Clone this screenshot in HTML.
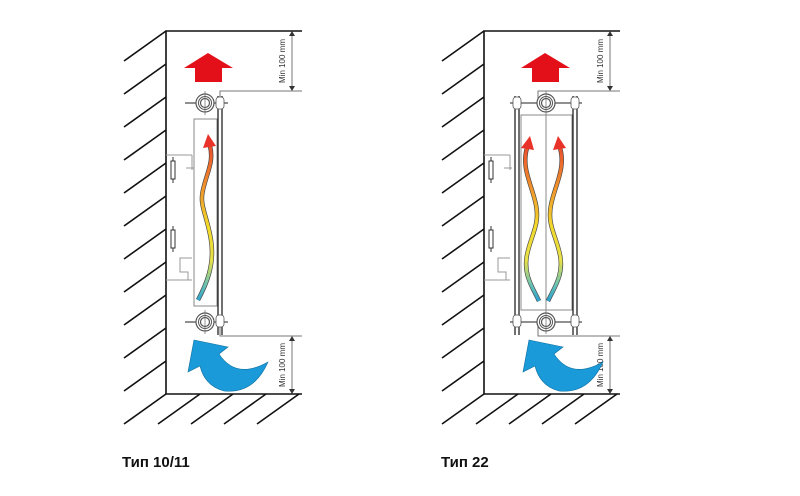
<!DOCTYPE html>
<html><head><meta charset="utf-8"><style>
html,body{margin:0;padding:0;background:#fff;}
svg{display:block}
text{font-family:"Liberation Sans",sans-serif}
</style></head><body>
<svg width="800" height="496" viewBox="0 0 800 496" xmlns="http://www.w3.org/2000/svg">
<defs>
<linearGradient id="g" x1="0" y1="130" x2="0" y2="305" gradientUnits="userSpaceOnUse">
<stop offset="0" stop-color="#e8322a"/><stop offset="0.3" stop-color="#ef8a2c"/><stop offset="0.55" stop-color="#f3d92a"/><stop offset="0.75" stop-color="#e6e04a"/><stop offset="0.88" stop-color="#6cc3b0"/><stop offset="1" stop-color="#1a9ad8"/>
</linearGradient>
<g id="base">
<g stroke="#111" stroke-width="1.6">
<line x1="124" y1="61" x2="166" y2="31"/><line x1="124" y1="94" x2="166" y2="64"/><line x1="124" y1="127" x2="166" y2="97"/><line x1="124" y1="160" x2="166" y2="130"/><line x1="124" y1="193" x2="166" y2="163"/><line x1="124" y1="226" x2="166" y2="196"/><line x1="124" y1="259" x2="166" y2="229"/><line x1="124" y1="292" x2="166" y2="262"/><line x1="124" y1="325" x2="166" y2="295"/><line x1="124" y1="358" x2="166" y2="328"/><line x1="124" y1="391" x2="166" y2="361"/>
<line x1="124" y1="424" x2="166" y2="394"/><line x1="158" y1="424" x2="200" y2="394"/><line x1="191" y1="424" x2="233" y2="394"/><line x1="224" y1="424" x2="266" y2="394"/><line x1="257" y1="424" x2="299" y2="394"/>
</g>
<path d="M302,31 H166 V394 H302" fill="none" stroke="#111" stroke-width="1.6"/>
<g stroke="#777" stroke-width="1" fill="none">
<path d="M220,100 V91 H302"/><path d="M220,320 V336 H302"/>
<line x1="292" y1="33" x2="292" y2="89"/><line x1="292" y1="338" x2="292" y2="392"/>
</g>
<g fill="#333"><path d="M289,36 L292,31 L295,36Z"/><path d="M289,86 L292,91 L295,86Z"/><path d="M289,341 L292,336 L295,341Z"/><path d="M289,389 L292,394 L295,389Z"/></g>
<text transform="translate(285,61) rotate(-90)" font-size="8" fill="#333" text-anchor="middle">Min 100 mm</text>
<text transform="translate(285,365) rotate(-90)" font-size="8" fill="#333" text-anchor="middle">Min 100 mm</text>
<g stroke="#999" stroke-width="1" fill="none">
<path d="M166,155 H192"/><path d="M166,280 H192"/>
<path d="M192,155 V170 M186,168 H194"/><path d="M192,258 H180 V272 H188 V280"/>
</g>
<g stroke="#333" stroke-width="1" fill="#fff">
<line x1="173" y1="157" x2="173" y2="183"/><rect x="171" y="161" width="4" height="18"/>
<line x1="173" y1="226" x2="173" y2="252"/><rect x="171" y="230" width="4" height="18"/>
</g>
</g>
<g id="blue"><path d="M194,340 L228,347 L219,354 Q236,380 268,362 Q254,394 224,391 Q205,386 200,366 L188,372 Z" fill="#1a9ad8" stroke="#0d6fa0" stroke-width="0.6"/></g>
<g id="red"><path d="M208,53 L233,68 L222,68 L222,82 L195,82 L195,68 L184,68 Z" fill="#e3101a"/></g>
<g id="pipe"><circle r="9" fill="#fff" stroke="#555" stroke-width="1.2"/><circle r="6.5" fill="none" stroke="#555" stroke-width="1"/><circle r="4.5" fill="none" stroke="#555" stroke-width="1.2"/><line x1="0" y1="-12" x2="0" y2="12" stroke="#666" stroke-width="0.7"/></g>
</defs>

<use href="#base"/>
<use href="#red"/>
<use href="#blue"/>
<rect x="194" y="119" width="23" height="187" fill="#fff" stroke="#888" stroke-width="1"/>
<line x1="185" y1="103" x2="228" y2="103" stroke="#222" stroke-width="1"/>
<line x1="185" y1="322" x2="228" y2="322" stroke="#222" stroke-width="1"/>
<use href="#pipe" x="205" y="103"/><use href="#pipe" x="205" y="322"/>
<g stroke="#111" stroke-width="1.2" fill="none"><line x1="218" y1="96" x2="218" y2="335"/><line x1="222" y1="96" x2="222" y2="335"/></g>
<g stroke="#555" stroke-width="0.8" fill="#fff"><rect x="216" y="97" width="8" height="12" rx="3"/><rect x="216" y="315" width="8" height="12" rx="3"/></g>
<path d="M198,300 C206,285 215,265 211,240 C207,215 199,205 203,190 C207,172 214,162 210,146" fill="none" stroke="#444" stroke-width="4.5"/>
<path d="M198,300 C206,285 215,265 211,240 C207,215 199,205 203,190 C207,172 214,162 210,146" fill="none" stroke="url(#g)" stroke-width="3.2"/>
<path d="M208,134 L203,148 L216,146 Z" fill="#e8322a"/>
<text x="122" y="467" font-size="15" font-weight="bold" fill="#111">Тип 10/11</text>

<use href="#base" x="318"/>
<use href="#red" x="337"/>
<use href="#blue" x="335"/>
<rect x="521" y="115" width="51" height="195" fill="#fff" stroke="#888" stroke-width="1"/>
<line x1="546" y1="115" x2="546" y2="310" stroke="#888"/>
<line x1="510" y1="103" x2="582" y2="103" stroke="#222" stroke-width="1"/>
<line x1="510" y1="322" x2="582" y2="322" stroke="#222" stroke-width="1"/>
<use href="#pipe" x="546" y="103"/><use href="#pipe" x="546" y="322"/>
<g stroke="#111" stroke-width="1.2" fill="none"><line x1="515" y1="96" x2="515" y2="335"/><line x1="519" y1="96" x2="519" y2="335"/><line x1="573" y1="96" x2="573" y2="335"/><line x1="577" y1="96" x2="577" y2="335"/></g>
<g stroke="#555" stroke-width="0.8" fill="#fff"><rect x="513" y="97" width="8" height="12" rx="3"/><rect x="513" y="315" width="8" height="12" rx="3"/><rect x="571" y="97" width="8" height="12" rx="3"/><rect x="571" y="315" width="8" height="12" rx="3"/></g>
<g fill="none">
<path d="M539,301 C533,288 523,275 527,255 C531,235 540,225 536,205 C532,185 521,168 527,148" stroke="#444" stroke-width="4.5"/>
<path d="M539,301 C533,288 523,275 527,255 C531,235 540,225 536,205 C532,185 521,168 527,148" stroke="url(#g)" stroke-width="3.2"/>
<path d="M548,301 C554,288 564,275 560,255 C556,235 547,225 551,205 C555,185 566,168 560,148" stroke="#444" stroke-width="4.5"/>
<path d="M548,301 C554,288 564,275 560,255 C556,235 547,225 551,205 C555,185 566,168 560,148" stroke="url(#g)" stroke-width="3.2"/>
</g>
<path d="M530,136 L521,148 L534,150 Z" fill="#e8322a"/>
<path d="M558,136 L553,150 L566,148 Z" fill="#e8322a"/>
<text x="441" y="467" font-size="15" font-weight="bold" fill="#111">Тип 22</text>
</svg>
</body></html>
